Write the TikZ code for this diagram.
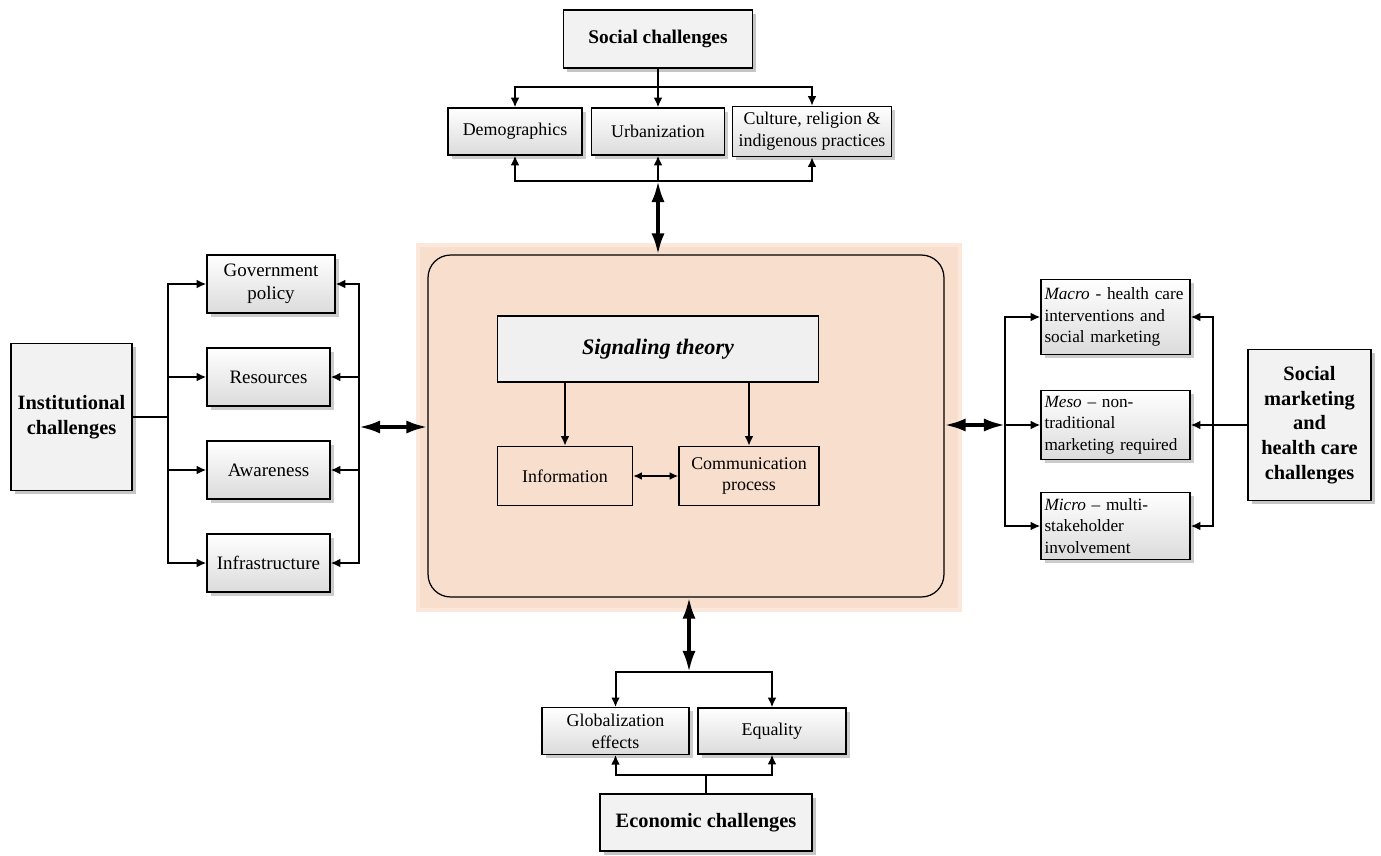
\documentclass[tikz,border=0pt]{standalone}
\usepackage{fontspec}
\setmainfont{Liberation Serif}
\usepackage{xcolor}
\usepackage{tikz}
\usetikzlibrary{arrows.meta,positioning,shadows}
\definecolor{peach}{RGB}{248,222,204}
\definecolor{peachlight}{RGB}{251,232,218}
\newcommand\nohyph{\hyphenpenalty=10000\relax}
\tikzset{
  mainbox/.style={
    rectangle, draw, line width=0.8pt, fill=black!5,
    drop shadow={shadow xshift=2pt, shadow yshift=-2pt, fill=black!45},
    align=center, font=\fontsize{11.6}{14}\selectfont\bfseries
  },
  subbox/.style={
    rectangle, draw, line width=0.7pt, top color=white, bottom color=black!14,
    drop shadow={shadow xshift=2pt, shadow yshift=-2pt, fill=black!40},
    align=center, font=\fontsize{10.2}{12.6}\selectfont
  },
  leftbox/.style={subbox, align=left, text width=2.84cm, inner xsep=2pt,
    font=\fontsize{9.8}{12.2}\selectfont},
  plainbox/.style={
    rectangle, draw, line width=0.8pt, align=center,
    font=\fontsize{10.2}{12.4}\selectfont
  },
  arrow/.style={-{Latex[length=5.5pt,width=5pt]}, line width=1.134pt},
  bigarrow/.style={{Latex[length=12pt,width=7.5pt]}-{Latex[length=12pt,width=7.5pt]}, line width=2pt},
  link/.style={line width=1.134pt},
}

\begin{document}
\begin{tikzpicture}[x=0.02cm,y=-0.02cm]
  \useasboundingbox (0,0) rectangle (1381,855);

  % Centre block
  \fill[peachlight] (416,243) rectangle (962,612);
  \fill[peach] (420,247) rectangle (958,608);
  \node[draw, line width=0.7pt, fill=peach, rounded corners=0.45cm,
    minimum width=10.32cm, minimum height=6.84cm] (core) at (686,426) {};
  \node[rectangle, draw, line width=0.8pt, fill=black!6,
    minimum width=6.42cm, minimum height=1.32cm,
    font=\fontsize{12.6}{15}\selectfont\bfseries\itshape] (signal) at (658,349)
    {Signaling theory};
  \node[plainbox, minimum width=2.7cm, minimum height=1.18cm] (info) at (565,476)
    {Information};
  \node[plainbox, minimum width=2.8cm, minimum height=1.18cm] (comm) at (749,476)
    {Communication\\process};

  \draw[arrow] (signal.south -| info) -- (info);
  \draw[arrow] (signal.south -| comm) -- (comm);
  \draw[{Latex[length=5pt,width=4.5pt]}-{Latex[length=5pt,width=4.5pt]}, line width=0.9pt]
    (info) -- (comm);

  % Social challenges
  \node[mainbox, minimum width=3.78cm, minimum height=1.16cm,
    font=\fontsize{11}{13}\selectfont\bfseries] (social) at (658,39)
    {Social challenges};
  \node[subbox, minimum width=2.68cm, minimum height=0.94cm] (demo) at (515,131.5)
    {Demographics};
  \node[subbox, minimum width=2.66cm, minimum height=0.94cm] (urban) at (658,131.5)
    {Urbanization};
  \node[subbox, minimum width=3.14cm, minimum height=0.94cm] (culture) at (812,131.5)
    {Culture, religion \&\\indigenous practices};

  \coordinate (stop) at (658,87);
  \coordinate (sbot) at (658,181);
  \draw[link] (social) -- (stop);
  \draw[arrow] (stop) -- (urban);
  \draw[arrow] (stop) -| (demo.north);
  \draw[arrow] (stop) -| (culture.north);
  \draw[arrow] (sbot) -- (urban);
  \draw[arrow] (sbot) -| (demo.south);
  \draw[arrow] (sbot) -| (culture.south);
  \draw[bigarrow] (sbot) -- (sbot |- core.north);

  % Institutional challenges
  \node[mainbox, minimum width=2.42cm, minimum height=2.94cm] (inst) at (71.5,417)
    {Institutional\\challenges};
  \node[subbox, minimum width=2.56cm, minimum height=1.16cm,
    font=\fontsize{10.8}{13}\selectfont] (gov) at (271,284) {Government\\policy};
  \node[subbox, minimum width=2.46cm, minimum height=1.16cm,
    font=\fontsize{10.8}{13}\selectfont] (res) at (268.5,377) {Resources};
  \node[subbox, minimum width=2.46cm, minimum height=1.16cm,
    font=\fontsize{10.8}{13}\selectfont] (aware) at (268.5,470) {Awareness};
  \node[subbox, minimum width=2.46cm, minimum height=1.16cm,
    font=\fontsize{10.8}{13}\selectfont] (infra) at (268.5,563) {Infrastructure};

  \coordinate (ileft) at (168,417);
  \coordinate (iright) at (359,427);
  \draw[link] (inst) -- (ileft);
  \foreach \n in {gov,res,aware,infra}
    \draw[arrow] (ileft) |- (\n.west);
  \foreach \n in {gov,res,aware,infra}
    \draw[arrow] (iright) |- (\n.east);
  \draw[bigarrow] (iright) -- (core.west |- iright);

  % Social marketing and health care challenges
  \node[mainbox, minimum width=2.46cm, minimum height=3.02cm] (smhc) at (1309.5,425)
    {Social\\marketing\\and\\health care\\challenges};
  \node[leftbox, minimum width=2.94cm, minimum height=1.5cm] (macro) at (1115.5,317)
    {\nohyph\textit{Macro} - health care\\interventions and\\social marketing};
  \node[leftbox, minimum width=2.94cm, minimum height=1.2cm] (meso) at (1115.5,425)
    {\nohyph\textit{Meso} -- non-\\traditional\\marketing required};
  \node[leftbox, minimum width=2.94cm, minimum height=1.2cm] (micro) at (1115.5,526)
    {\nohyph\textit{Micro} -- multi-\\stakeholder\\involvement};

  \coordinate (mleft) at (1005,425);
  \coordinate (mright) at (1213,425);
  \draw[link] (smhc) -- (mright);
  \foreach \n in {macro,meso,micro}
    \draw[arrow] (mleft) |- (\n.west);
  \foreach \n in {macro,meso,micro}
    \draw[arrow] (mright) |- (\n.east);
  \draw[bigarrow] (core.east |- mleft) -- (mleft);

  % Economic challenges
  \node[mainbox, minimum width=4.24cm, minimum height=1.14cm] (econ) at (706,822.5)
    {Economic challenges};
  \node[subbox, minimum width=2.94cm, minimum height=0.92cm] (glob) at (615.5,731)
    {Globalization\\effects};
  \node[subbox, minimum width=2.96cm, minimum height=0.92cm] (equal) at (772,731)
    {Equality};

  \coordinate (etop) at (689,672);
  \coordinate (ebot) at (706,775);
  \draw[bigarrow] (etop |- core.south) -- (etop);
  \draw[arrow] (etop) -| (glob.north);
  \draw[arrow] (etop) -| (equal.north);
  \draw[link] (econ) -- (ebot);
  \draw[arrow] (ebot) -| (glob.south);
  \draw[arrow] (ebot) -| (equal.south);
\end{tikzpicture}
\end{document}
